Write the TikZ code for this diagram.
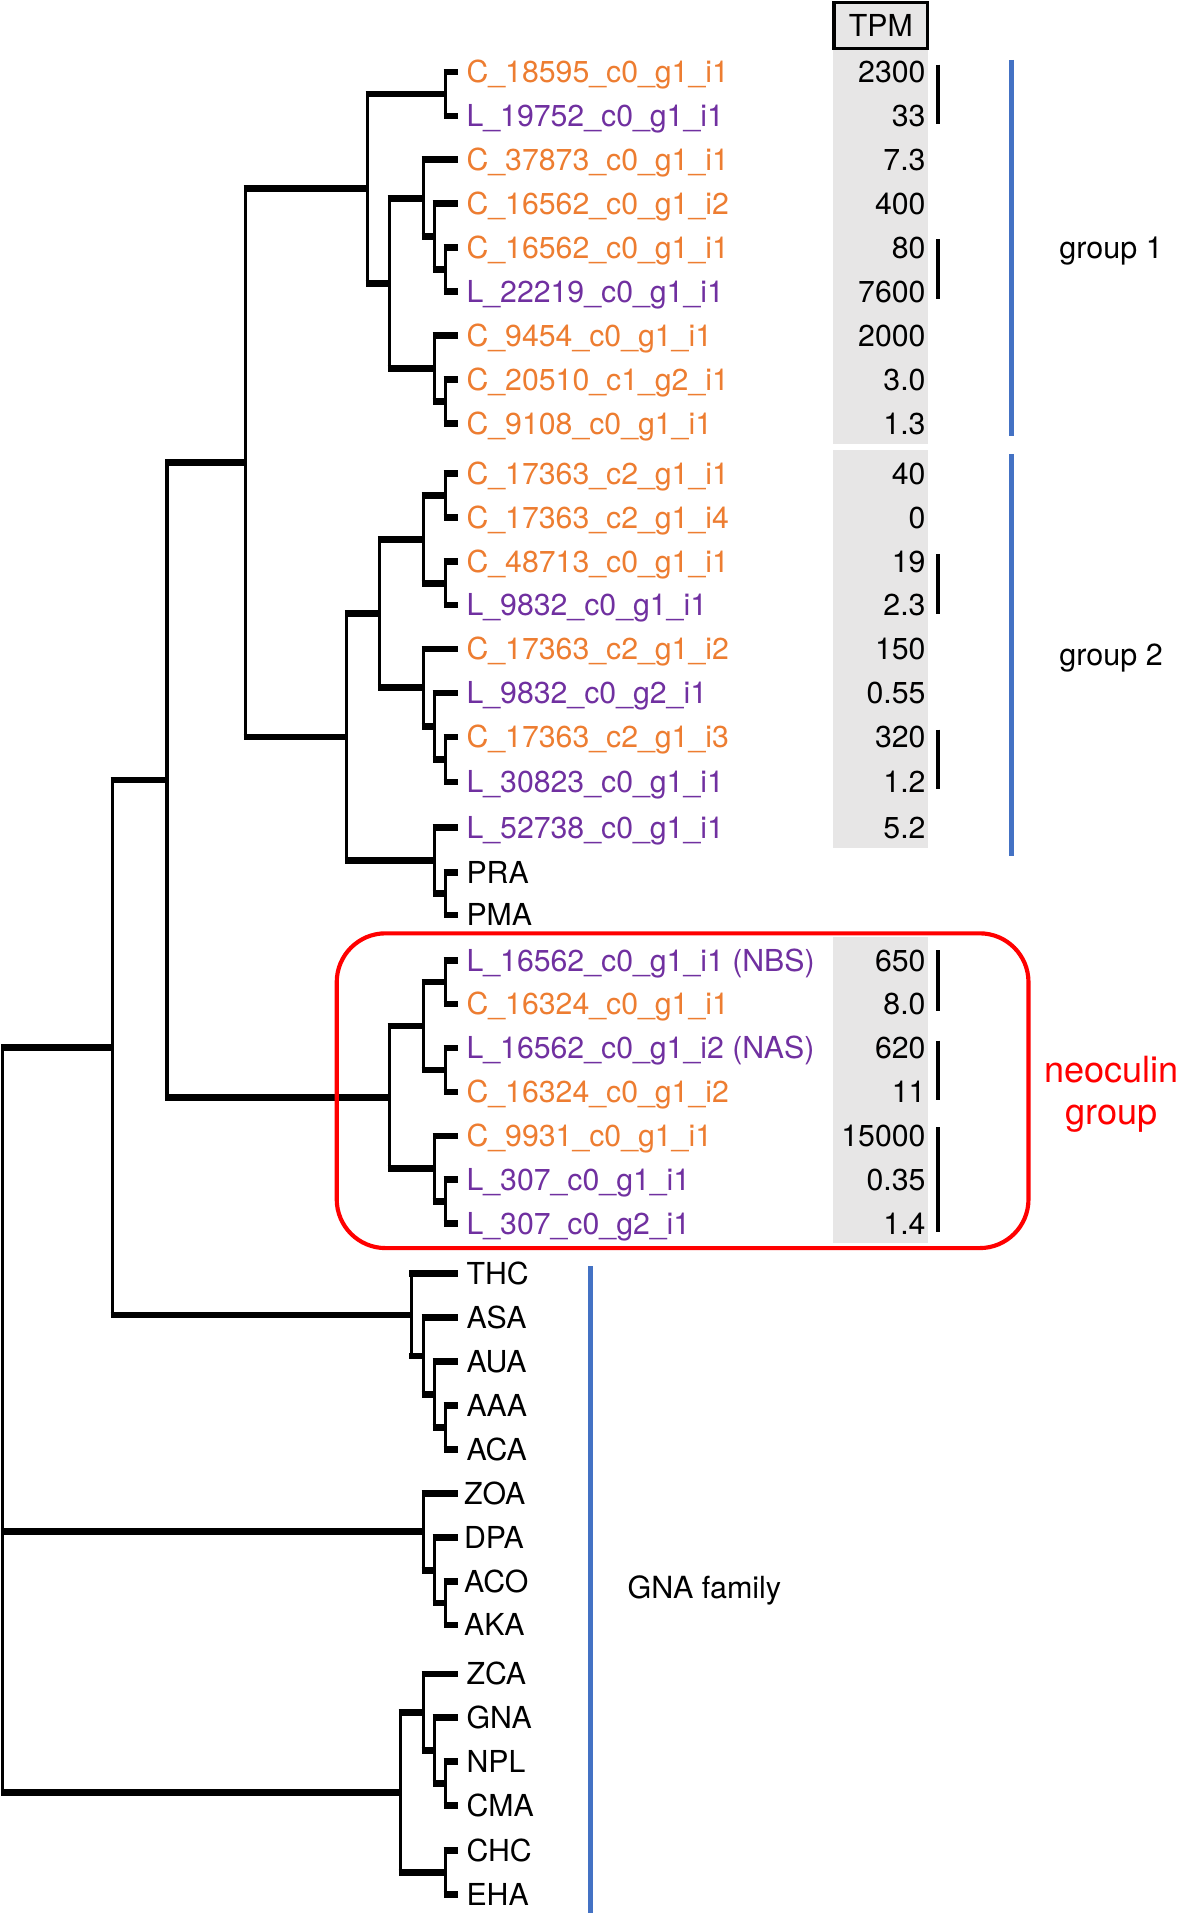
\documentclass[tikz,border=0pt]{standalone}
\usepackage{fontspec}
\setmainfont{TeX Gyre Heros}
\usepackage{xcolor}
\usepackage{tikz}
\usetikzlibrary{positioning}

\definecolor{seqC}{HTML}{ED7D31}
\definecolor{seqL}{HTML}{7030A0}
\definecolor{grpblue}{HTML}{4472C4}
\definecolor{tpmgrey}{HTML}{E7E6E6}
% elbow: thin vertical part, thick horizontal part
\newcommand{\branch}[2]{\draw[vedge] (#1) |- (#2); \draw[hedge] (#1 |- #2) -- (#2);}

\begin{document}
\begin{tikzpicture}[x=0.5pt, y=-0.5pt,
	vedge/.style={black, line width=1.35pt},
	hedge/.style={black, line width=2.75pt, shorten <=-0.68pt},
	lab/.style={inner sep=0pt, text height=8.9pt, text depth=0pt, font=\fontsize{12.4}{14}\selectfont},
	labC/.style={lab, text=seqC},
	labL/.style={lab, text=seqL},
	labN/.style={lab, text=black},
	tpmval/.style={lab, anchor=east},
	tpmbox/.style={draw, fill=tpmgrey, line width=1.35pt, minimum width=38.3pt, minimum height=19pt, inner sep=0pt, font=\fontsize{12.4}{14}\selectfont},
	pairbar/.style={black, line width=1.8pt},
	grpline/.style={grpblue, line width=1.8pt},
	grptext/.style={anchor=west, inner sep=0pt, font=\fontsize{12.5}{15}\selectfont},
	neobox/.style={red, line width=1.7pt, rounded corners=20pt},
	neotext/.style={red, align=center, inner sep=0pt, font=\fontsize{14.8}{17.5}\selectfont}
	]
	\useasboundingbox (0,0) rectangle (964,1568);

	% TPM column
	\fill[tpmgrey] (683,41) rectangle (761,364);
	\fill[tpmgrey] (683,369) rectangle (761,695);
	\fill[tpmgrey] (683,768) rectangle (761,1019);
	\node[tpmbox] (tpm) at (722,21) {TPM};
	\coordinate (vx) at (759,0);

	% group 1 leaves
	\coordinate (l1) at (375,59);  \node[labC, right=3.5pt of l1] (t1) {C\_18595\_c0\_g1\_i1};
	\coordinate (l2) at (375,95);  \node[labL, right=3.5pt of l2] (t2) {L\_19752\_c0\_g1\_i1};
	\coordinate (l3) at (375,131); \node[labC, right=3.5pt of l3] (t3) {C\_37873\_c0\_g1\_i1};
	\coordinate (l4) at (375,167); \node[labC, right=3.5pt of l4] (t4) {C\_16562\_c0\_g1\_i2};
	\coordinate (l5) at (375,203); \node[labC, right=3.5pt of l5] (t5) {C\_16562\_c0\_g1\_i1};
	\coordinate (l6) at (375,239); \node[labL, right=3.5pt of l6] (t6) {L\_22219\_c0\_g1\_i1};
	\coordinate (l7) at (375,275); \node[labC, right=3.5pt of l7] (t7) {C\_9454\_c0\_g1\_i1};
	\coordinate (l8) at (375,311); \node[labC, right=3.5pt of l8] (t8) {C\_20510\_c1\_g2\_i1};
	\coordinate (l9) at (375,347); \node[labC, right=3.5pt of l9] (t9) {C\_9108\_c0\_g1\_i1};
	\node[tpmval] (v1) at (vx |- l1) {2300};
	\node[tpmval] (v2) at (vx |- l2) {33};
	\node[tpmval] (v3) at (vx |- l3) {7.3};
	\node[tpmval] (v4) at (vx |- l4) {400};
	\node[tpmval] (v5) at (vx |- l5) {80};
	\node[tpmval] (v6) at (vx |- l6) {7600};
	\node[tpmval] (v7) at (vx |- l7) {2000};
	\node[tpmval] (v8) at (vx |- l8) {3.0};
	\node[tpmval] (v9) at (vx |- l9) {1.3};

	% group 2 leaves
	\coordinate (m1) at (375,388); \node[labC, right=3.5pt of m1] (s1) {C\_17363\_c2\_g1\_i1};
	\coordinate (m2) at (375,424); \node[labC, right=3.5pt of m2] (s2) {C\_17363\_c2\_g1\_i4};
	\coordinate (m3) at (375,460); \node[labC, right=3.5pt of m3] (s3) {C\_48713\_c0\_g1\_i1};
	\coordinate (m4) at (375,496); \node[labL, right=3.5pt of m4] (s4) {L\_9832\_c0\_g1\_i1};
	\coordinate (m5) at (375,532); \node[labC, right=3.5pt of m5] (s5) {C\_17363\_c2\_g1\_i2};
	\coordinate (m6) at (375,568); \node[labL, right=3.5pt of m6] (s6) {L\_9832\_c0\_g2\_i1};
	\coordinate (m7) at (375,604); \node[labC, right=3.5pt of m7] (s7) {C\_17363\_c2\_g1\_i3};
	\coordinate (m8) at (375,641); \node[labL, right=3.5pt of m8] (s8) {L\_30823\_c0\_g1\_i1};
	\coordinate (m9) at (375,678); \node[labL, right=3.5pt of m9] (s9) {L\_52738\_c0\_g1\_i1};
	\coordinate (pra) at (375,715); \node[labN, right=3.5pt of pra] (tpra) {PRA};
	\coordinate (pma) at (375,750); \node[labN, right=3.5pt of pma] (tpma) {PMA};
	\node[tpmval] (w1) at (vx |- m1) {40};
	\node[tpmval] (w2) at (vx |- m2) {0};
	\node[tpmval] (w3) at (vx |- m3) {19};
	\node[tpmval] (w4) at (vx |- m4) {2.3};
	\node[tpmval] (w5) at (vx |- m5) {150};
	\node[tpmval] (w6) at (vx |- m6) {0.55};
	\node[tpmval] (w7) at (vx |- m7) {320};
	\node[tpmval] (w8) at (vx |- m8) {1.2};
	\node[tpmval] (w9) at (vx |- m9) {5.2};

	% neoculin leaves
	\coordinate (n1) at (375,787);  \node[labL, right=3.5pt of n1] (r1) {L\_16562\_c0\_g1\_i1 (NBS)};
	\coordinate (n2) at (375,823);  \node[labC, right=3.5pt of n2] (r2) {C\_16324\_c0\_g1\_i1};
	\coordinate (n3) at (375,859);  \node[labL, right=3.5pt of n3] (r3) {L\_16562\_c0\_g1\_i2 (NAS)};
	\coordinate (n4) at (375,895);  \node[labC, right=3.5pt of n4] (r4) {C\_16324\_c0\_g1\_i2};
	\coordinate (n5) at (375,931);  \node[labC, right=3.5pt of n5] (r5) {C\_9931\_c0\_g1\_i1};
	\coordinate (n6) at (375,967);  \node[labL, right=3.5pt of n6] (r6) {L\_307\_c0\_g1\_i1};
	\coordinate (n7) at (375,1003); \node[labL, right=3.5pt of n7] (r7) {L\_307\_c0\_g2\_i1};
	\node[tpmval] (u1) at (vx |- n1) {650};
	\node[tpmval] (u2) at (vx |- n2) {8.0};
	\node[tpmval] (u3) at (vx |- n3) {620};
	\node[tpmval] (u4) at (vx |- n4) {11};
	\node[tpmval] (u5) at (vx |- n5) {15000};
	\node[tpmval] (u6) at (vx |- n6) {0.35};
	\node[tpmval] (u7) at (vx |- n7) {1.4};

	% GNA family leaves
	\coordinate (thc) at (375,1044); \node[labN, right=3.5pt of thc] (tthc) {THC};
	\coordinate (asa) at (375,1080); \node[labN, right=3.5pt of asa] (tasa) {ASA};
	\coordinate (aua) at (375,1116); \node[labN, right=3.5pt of aua] (taua) {AUA};
	\coordinate (aaa) at (375,1152); \node[labN, right=3.5pt of aaa] (taaa) {AAA};
	\coordinate (aca) at (375,1188); \node[labN, right=3.5pt of aca] (taca) {ACA};
	\coordinate (zoa) at (375,1224); \node[labN, right=2.5pt of zoa] (tzoa) {ZOA};
	\coordinate (dpa) at (375,1260); \node[labN, right=2.5pt of dpa] (tdpa) {DPA};
	\coordinate (aco) at (375,1296); \node[labN, right=2.5pt of aco] (taco) {ACO};
	\coordinate (aka) at (375,1332); \node[labN, right=2.5pt of aka] (taka) {AKA};
	\coordinate (zca) at (375,1372); \node[labN, right=3.5pt of zca] (tzca) {ZCA};
	\coordinate (gna) at (375,1408); \node[labN, right=3.5pt of gna] (tgna) {GNA};
	\coordinate (npl) at (375,1444); \node[labN, right=3.5pt of npl] (tnpl) {NPL};
	\coordinate (cma) at (375,1480); \node[labN, right=3.5pt of cma] (tcma) {CMA};
	\coordinate (chc) at (375,1517); \node[labN, right=3.5pt of chc] (tchc) {CHC};
	\coordinate (eha) at (375,1553); \node[labN, right=3.5pt of eha] (teha) {EHA};

	% inner nodes
	\coordinate (c1) at (365,77);    \coordinate (c2) at (365,221);
	\coordinate (c3) at (356,194);   \coordinate (c4) at (347,162.5);
	\coordinate (c5) at (365,329);   \coordinate (c6) at (356,302);
	\coordinate (c7) at (319,232.3); \coordinate (c8) at (301,154.6);
	\coordinate (d1) at (365,406);   \coordinate (d2) at (365,478);
	\coordinate (d3) at (347,442);   \coordinate (d4) at (365,622.5);
	\coordinate (d5) at (356,595.3); \coordinate (d6) at (347,563.6);
	\coordinate (d7) at (311,502.8); \coordinate (d8) at (365,732.5);
	\coordinate (d9) at (356,705.3); \coordinate (d10) at (284,604);
	\coordinate (a1) at (201,379.3);
	\coordinate (e1) at (365,805);   \coordinate (e2) at (365,877);
	\coordinate (e3) at (347,841);   \coordinate (e4) at (365,985);
	\coordinate (e5) at (356,958);   \coordinate (e6) at (319,899.5);
	\coordinate (a2) at (137,639.4);
	\coordinate (g1) at (365,1170);  \coordinate (g2) at (356,1143);
	\coordinate (g3) at (347,1111.5); \coordinate (g4) at (337,1077.8);
	\coordinate (a3) at (92,858.6);
	\coordinate (h1) at (365,1314);  \coordinate (h2) at (356,1287);
	\coordinate (h3) at (347,1255.5);
	\coordinate (k1) at (365,1462);  \coordinate (k2) at (356,1435);
	\coordinate (k3) at (347,1403.5); \coordinate (k4) at (365,1535);
	\coordinate (k5) at (328,1469.3);
	\coordinate (root) at (2,1163);

	% tree
	\branch{c1}{l1} \branch{c1}{l2}
	\branch{c2}{l5} \branch{c2}{l6}
	\branch{c3}{l4} \branch{c3}{c2}
	\branch{c4}{l3} \branch{c4}{c3}
	\branch{c5}{l8} \branch{c5}{l9}
	\branch{c6}{l7} \branch{c6}{c5}
	\branch{c7}{c4} \branch{c7}{c6}
	\branch{c8}{c1} \branch{c8}{c7}
	\branch{d1}{m1} \branch{d1}{m2}
	\branch{d2}{m3} \branch{d2}{m4}
	\branch{d3}{d1} \branch{d3}{d2}
	\branch{d4}{m7} \branch{d4}{m8}
	\branch{d5}{m6} \branch{d5}{d4}
	\branch{d6}{m5} \branch{d6}{d5}
	\branch{d7}{d3} \branch{d7}{d6}
	\branch{d8}{pra} \branch{d8}{pma}
	\branch{d9}{m9} \branch{d9}{d8}
	\branch{d10}{d7} \branch{d10}{d9}
	\branch{a1}{c8} \branch{a1}{d10}
	\branch{e1}{n1} \branch{e1}{n2}
	\branch{e2}{n3} \branch{e2}{n4}
	\branch{e3}{e1} \branch{e3}{e2}
	\branch{e4}{n6} \branch{e4}{n7}
	\branch{e5}{n5} \branch{e5}{e4}
	\branch{e6}{e3} \branch{e6}{e5}
	\branch{a2}{a1} \branch{a2}{e6}
	\branch{g1}{aaa} \branch{g1}{aca}
	\branch{g2}{aua} \branch{g2}{g1}
	\branch{g3}{asa} \branch{g3}{g2}
	\branch{g4}{thc} \branch{g4}{g3}
	\branch{a3}{a2} \branch{a3}{g4}
	\branch{h1}{aco} \branch{h1}{aka}
	\branch{h2}{dpa} \branch{h2}{h1}
	\branch{h3}{zoa} \branch{h3}{h2}
	\branch{k1}{npl} \branch{k1}{cma}
	\branch{k2}{gna} \branch{k2}{k1}
	\branch{k3}{zca} \branch{k3}{k2}
	\branch{k4}{chc} \branch{k4}{eha}
	\branch{k5}{k3} \branch{k5}{k4}
	\branch{root}{a3} \branch{root}{h3} \branch{root}{k5}

	% pair marks
	\draw[pairbar] (769,53) -- (769,102);
	\draw[pairbar] (769,196) -- (769,245);
	\draw[pairbar] (769,454) -- (769,503);
	\draw[pairbar] (769,598) -- (769,647);
	\draw[pairbar] (769,779) -- (769,829);
	\draw[pairbar] (769,853) -- (769,902);
	\draw[pairbar] (769,924) -- (769,1010);

	% groups
	\draw[grpline] (829,49) -- (829,357);
	\draw[grpline] (829,372) -- (829,702);
	\draw[grpline, line width=2pt] (484,1038) -- (484,1570);
	\node[grptext] (grp1) at (868,206) {group 1};
	\node[grptext] (grp2) at (868,539) {group 2};
	\node[grptext] (gnafam) at (514,1304) {GNA family};
	\draw[neobox] (276,765) rectangle (843,1023);
	\node[neotext] (neo) at (911,897) {neoculin\\group};
\end{tikzpicture}
\end{document}
